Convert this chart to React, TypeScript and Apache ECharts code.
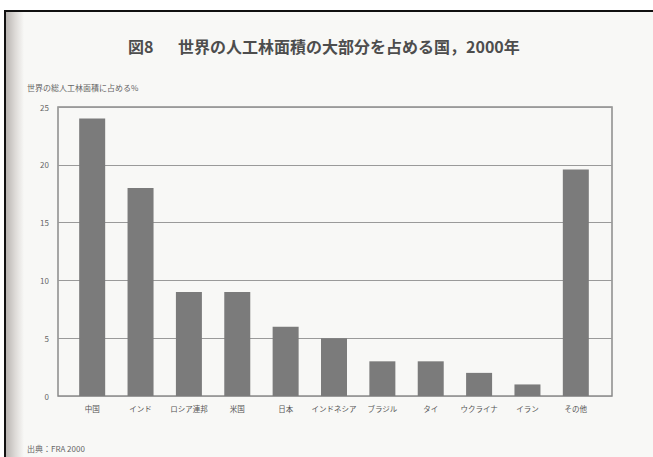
import React, { useEffect, useRef } from "react";
import * as echarts from "echarts";

const categories = ["中国", "インド", "ロシア連邦", "米国", "日本", "インドネシア", "ブラジル", "タイ", "ウクライナ", "イラン", "その他"];
const shares = [24, 18, 9, 9, 6, 5, 3, 3, 2, 1, 19.6];
const yTicks = [0, 5, 10, 15, 20, 25];

const FONT = "'Noto Sans CJK JP', 'Noto Sans', sans-serif";

export default function App() {
  const ref = useRef<HTMLDivElement>(null);
  useEffect(() => {
    document.body.style.margin = "0";
    const chart = echarts.init(ref.current!, null, { renderer: "svg" });
    const yMin = yTicks[0];
    const yMax = yTicks[yTicks.length - 1];
    const titleStyle = { fontFamily: FONT, fontSize: 16, fontWeight: "bold", fill: "#4d4d4d" };
    chart.setOption({
      animation: false,
      backgroundColor: "#f8f8f6",
      graphic: [
        { type: "rect", shape: { x: 0, y: 0, width: 653, height: 10 }, style: { fill: "#ffffff" }, z: 100 },
        { type: "rect", shape: { x: 0, y: 0, width: 4, height: 457 }, style: { fill: "#ffffff" }, z: 100 },
        { type: "rect", shape: { x: 4, y: 10, width: 649, height: 2 }, style: { fill: "#111111" }, z: 100 },
        { type: "rect", shape: { x: 4, y: 10, width: 2, height: 447 }, style: { fill: "#111111" }, z: 100 },
        {
          type: "rect",
          shape: { x: 6, y: 12, width: 18, height: 445 },
          style: {
            fill: new echarts.graphic.LinearGradient(0, 0, 1, 0, [
              { offset: 0, color: "#b9b5b2" },
              { offset: 0.5, color: "#dcd9d6" },
              { offset: 1, color: "#f8f8f6" },
            ]),
          },
          z: 99,
        },
        { type: "text", x: 128, y: 38, style: { text: "図8", ...titleStyle } },
        { type: "text", x: 178, y: 38, style: { text: "世界の人工林面積の大部分を占める国，2000年", ...titleStyle } },
        { type: "text", x: 27, y: 83, style: { text: "世界の総人工林面積に占める%", fontFamily: FONT, fontSize: 8, fill: "#666" } },
        { type: "text", x: 27, y: 444, style: { text: "出典：FRA 2000", fontFamily: FONT, fontSize: 8, fill: "#666" } },
      ],
      grid: [
        { left: 58, right: 41, top: 107, bottom: 61, show: true, borderColor: "#8a8a8a", borderWidth: 1.5, backgroundColor: "transparent" },
        { left: 68, right: 53, top: 107, bottom: 61 },
      ],
      xAxis: [
        { gridIndex: 0, type: "category", data: categories, show: false },
        {
          gridIndex: 1,
          type: "category",
          data: categories,
          axisLine: { show: false },
          axisTick: { show: false },
          axisLabel: { fontFamily: FONT, fontSize: 7.5, color: "#555", margin: 9, interval: 0 },
        },
      ],
      yAxis: [
        {
          gridIndex: 0,
          type: "value",
          min: yMin,
          max: yMax,
          interval: 5,
          axisLine: { show: false },
          axisTick: { show: false },
          axisLabel: { fontFamily: FONT, fontSize: 8, color: "#666", margin: 9 },
          splitLine: { lineStyle: { color: "#9a9a9a", width: 1 } },
        },
        { gridIndex: 1, type: "value", min: yMin, max: yMax, interval: 5, show: false, splitLine: { show: false } },
      ],
      series: [
        {
          type: "bar",
          xAxisIndex: 1,
          yAxisIndex: 1,
          data: shares,
          barWidth: 26,
          itemStyle: { color: "#7b7b7b" },
        },
      ],
    });
    return () => chart.dispose();
  }, []);
  return <div ref={ref} style={{ position: "fixed", left: 0, top: 0, width: 653, height: 457 }} />;
}
